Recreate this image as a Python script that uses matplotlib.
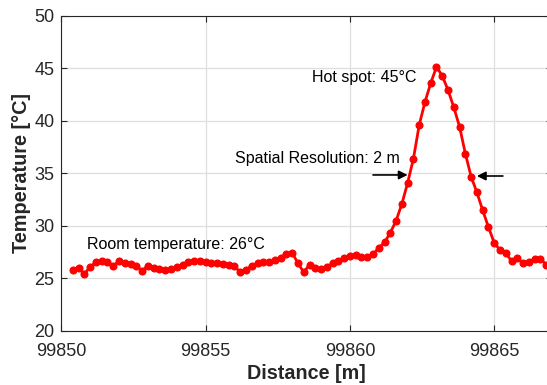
import matplotlib
matplotlib.use("Agg")
import matplotlib.pyplot as plt

plt.rcParams['font.family'] = ['Liberation Sans', 'DejaVu Sans']

# distance along the fibre [m] and measured temperature [°C]
distance = [
    99850.4, 99850.6, 99850.8, 99851.0, 99851.2, 99851.4, 99851.6, 99851.8,
    99852.0, 99852.2, 99852.4, 99852.6, 99852.8, 99853.0, 99853.2, 99853.4,
    99853.6, 99853.8, 99854.0, 99854.2, 99854.4, 99854.6, 99854.8, 99855.0,
    99855.2, 99855.4, 99855.6, 99855.8, 99856.0, 99856.2, 99856.4, 99856.6,
    99856.8, 99857.0, 99857.2, 99857.4, 99857.6, 99857.8, 99858.0, 99858.2,
    99858.4, 99858.6, 99858.8, 99859.0, 99859.2, 99859.4, 99859.6, 99859.8,
    99860.0, 99860.2, 99860.4, 99860.6, 99860.8, 99861.0, 99861.2, 99861.4,
    99861.6, 99861.8, 99862.0, 99862.2, 99862.4, 99862.6, 99862.8, 99863.0,
    99863.2, 99863.4, 99863.6, 99863.8, 99864.0, 99864.2, 99864.4, 99864.6,
    99864.8, 99865.0, 99865.2, 99865.4, 99865.6, 99865.8, 99866.0, 99866.2,
    99866.4, 99866.6, 99866.8,
]
temperature = [
    25.80, 26.00, 25.45, 26.10, 26.55, 26.70, 26.55, 26.20,
    26.65, 26.45, 26.35, 26.20, 25.75, 26.20, 26.00, 25.90,
    25.80, 25.90, 26.05, 26.30, 26.55, 26.65, 26.65, 26.60,
    26.50, 26.45, 26.40, 26.30, 26.15, 25.60, 25.85, 26.20,
    26.45, 26.55, 26.55, 26.75, 26.95, 27.35, 27.45, 26.45,
    25.60, 26.30, 26.00, 25.90, 26.10, 26.45, 26.65, 26.95,
    27.10, 27.20, 27.00, 27.00, 27.30, 27.90, 28.45, 29.35,
    30.50, 32.10, 34.10, 36.40, 39.60, 41.80, 43.60, 45.15,
    44.30, 42.95, 41.30, 39.45, 36.90, 34.70, 33.20, 31.50,
    29.90, 28.40, 27.70, 27.45, 26.65, 26.95, 26.45, 26.60,
    26.85, 26.90, 26.30,
]

x_ticks = [99850, 99855, 99860, 99865]
y_ticks = [20, 25, 30, 35, 40, 45, 50]

# annotations: (text, x, y)
notes = [
    ("Hot spot: 45°C", 99858.69, 44.1),
    ("Spatial Resolution: 2 m", 99856.02, 36.4),
    ("Room temperature: 26°C", 99850.89, 28.2),
]
# resolution arrows: (tail, head, level)
arrows = [
    (99860.8, 99862.0, 34.86),
    (99865.3, 99864.4, 34.76),
]

dark = '#262626'

fig = plt.figure(figsize=(5.47, 3.85), dpi=100)
ax = fig.add_axes([0.1121, 0.1403, 0.8969, 0.8182])

ax.plot(distance, temperature, color='red', lw=2, marker='o', ms=4.8,
        markerfacecolor='red', markeredgecolor='red')

ax.set_xlim(99850, 99867)
ax.set_ylim(20, 50)
ax.set_xticks(x_ticks)
ax.set_yticks(y_ticks)
ax.set_xticklabels([str(t) for t in x_ticks])
ax.grid(True, color='#dedede', lw=0.9)
ax.set_axisbelow(True)

ax.tick_params(direction='in', length=4, width=0.8, colors=dark,
               labelsize=13, top=True, right=True)
ax.tick_params(axis='x', pad=8.5)
ax.tick_params(axis='y', pad=5)
for s in ax.spines.values():
    s.set_color(dark)
    s.set_linewidth(0.8)

ax.set_xlabel('Distance [m]', fontsize=14.2, fontweight='bold', color=dark, labelpad=3)
ax.set_ylabel('Temperature [°C]', fontsize=14.3, fontweight='bold', color=dark, labelpad=2.5)

for txt, x, y in notes:
    ax.text(x, y, txt, fontsize=11.5, color='black', va='center', ha='left')

for tail, head, y in arrows:
    ax.annotate('', xy=(head, y), xytext=(tail, y),
                arrowprops=dict(arrowstyle='-|>', color='black', lw=1.2,
                                mutation_scale=13, shrinkA=0, shrinkB=0))

fig.savefig('out.png', dpi=100)
